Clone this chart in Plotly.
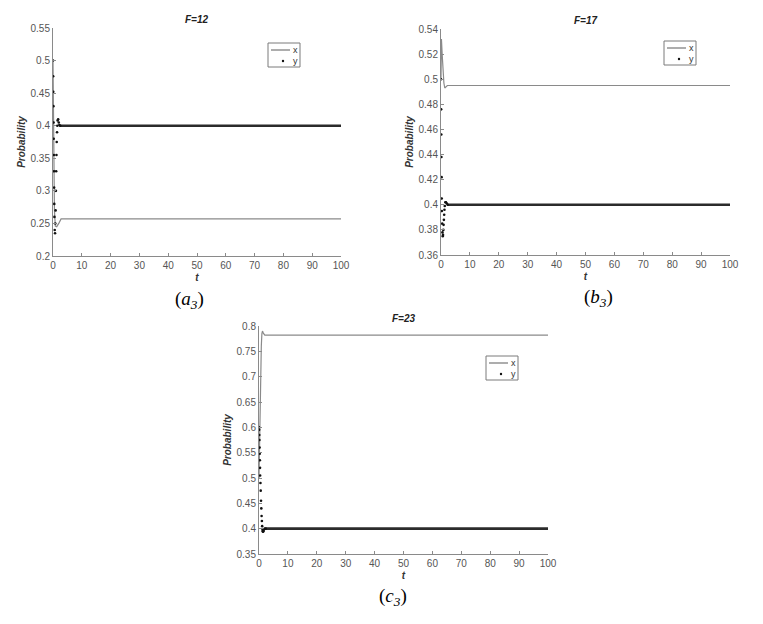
import plotly.graph_objects as go

# time grid and values (transient part + steady level)
# panel a3: F=12
ta_x = [0, 0.2, 0.5, 0.8, 1.3, 2.0, 2.8, 100]
xa = [0.5, 0.38, 0.27, 0.246, 0.245, 0.25, 0.257, 0.257]
ta_y = [0, 0.05, 0.1, 0.15, 0.2, 0.25, 0.3, 0.35, 0.4, 0.45, 0.5, 0.6, 0.7, 0.8,
        0.9, 1.0, 1.1, 1.2, 1.3, 1.4, 1.5, 1.6, 1.8, 2.0, 2.2, 2.5]
ya = [0.5, 0.476, 0.452, 0.43, 0.405, 0.38, 0.355, 0.33, 0.305, 0.28, 0.26, 0.24, 0.235, 0.25,
      0.27, 0.3, 0.33, 0.355, 0.375, 0.39, 0.4, 0.408, 0.41, 0.405, 0.401, 0.4]

# panel b3: F=17
tb_x = [0, 0.15, 0.4, 0.7, 1.0, 1.3, 1.7, 2.2, 100]
xb = [0.5, 0.532, 0.52, 0.505, 0.497, 0.493, 0.494, 0.495, 0.495]
tb_y = [0, 0.05, 0.1, 0.15, 0.2, 0.25, 0.3, 0.4, 0.5, 0.6, 0.7, 0.8, 0.9, 1.0,
        1.1, 1.2, 1.3, 1.5, 1.7, 2.0, 2.3]
yb = [0.5, 0.476, 0.456, 0.438, 0.422, 0.405, 0.395, 0.385, 0.378, 0.375, 0.376, 0.38, 0.384, 0.388,
      0.392, 0.396, 0.399, 0.402, 0.402, 0.401, 0.4]

# panel c3: F=23
tc_x = [0, 0.2, 0.4, 0.6, 0.8, 1.0, 1.2, 1.5, 2.0, 100]
xc = [0.5, 0.58, 0.66, 0.72, 0.76, 0.785, 0.79, 0.786, 0.782, 0.782]
tc_y = [0, 0.05, 0.1, 0.15, 0.2, 0.25, 0.3, 0.35, 0.4, 0.5, 0.6, 0.7, 0.8, 0.9,
        1.0, 1.1, 1.2, 1.3, 1.4, 1.5, 1.7, 2.0, 2.3]
yc = [0.6, 0.595, 0.585, 0.575, 0.56, 0.548, 0.535, 0.52, 0.505, 0.49, 0.475, 0.455, 0.44, 0.425,
      0.415, 0.405, 0.398, 0.395, 0.394, 0.395, 0.398, 0.4, 0.4]

# y settles at 0.4 in every panel
t_steady = [2.3, 100]
y_steady = [0.4, 0.4]

titles = ["F=12", "F=17", "F=23"]
labels = ["a", "b", "c"]
yranges = [[0.2, 0.55], [0.36, 0.54], [0.35, 0.8]]
ydticks = [0.05, 0.02, 0.05]

# the page has an 8px body margin, so the figure is drawn that much smaller
OFF = 8
W, H = 763 - OFF, 624 - OFF
# plot boxes in window pixels: left, right, top, bottom
boxes = [(53, 341, 28, 256), (441, 730, 29, 255), (259, 548, 326, 554)]
label_pos = [(189, 300), (598, 298), (393, 597)]
legend_pos = [(268, 43), (664, 41), (486, 356)]  # top-left corner of legend box

FONT = "Liberation Sans, Arial, sans-serif"
GREY = "#8a8a8a"


def px(x):
    return (x - OFF) / W


def py(y):
    return 1 - (y - OFF) / H


fig = go.Figure()
series = [(ta_x, xa, ta_y, ya), (tb_x, xb, tb_y, yb), (tc_x, xc, tc_y, yc)]
layout = {}
shapes = []
annotations = []
for i, (tx, xv, ty, yv) in enumerate(series):
    n = "" if i == 0 else str(i + 1)
    fig.add_trace(go.Scatter(x=tx, y=xv, mode="lines", name="x", showlegend=False,
                             line=dict(color=GREY, width=1.2),
                             xaxis="x" + n, yaxis="y" + n))
    fig.add_trace(go.Scatter(x=t_steady, y=y_steady, mode="lines", showlegend=False,
                             line=dict(color="#2b2b2b", width=2.6),
                             xaxis="x" + n, yaxis="y" + n))
    fig.add_trace(go.Scatter(x=ty, y=yv, mode="markers", name="y", showlegend=False,
                             marker=dict(color="#111111", size=2.6),
                             xaxis="x" + n, yaxis="y" + n))

    l, r, t, b = boxes[i]
    axis_common = dict(showline=True, linecolor=GREY, linewidth=1, ticks="inside",
                       ticklen=3, tickcolor=GREY, showgrid=False, zeroline=False,
                       automargin=False,
                       tickfont=dict(family=FONT, size=10, color="#555555"))
    layout["xaxis" + n] = dict(axis_common, domain=[px(l), px(r)], range=[0, 100],
                               dtick=10, tick0=0, anchor="y" + n,
                               title=dict(text="<b><i>t</i></b>", standoff=3,
                                          font=dict(family=FONT, size=10, color="#333333")))
    layout["yaxis" + n] = dict(axis_common, domain=[py(b), py(t)], range=yranges[i],
                               dtick=ydticks[i], tick0=yranges[i][0], anchor="x" + n,
                               title=dict(text="<b><i>Probability</i></b>", standoff=3,
                                          font=dict(family=FONT, size=10, color="#333333")))

    # small MATLAB-style legend box
    lx, ly = legend_pos[i]
    shapes.append(dict(type="rect", xref="paper", yref="paper",
                       x0=px(lx), x1=px(lx + 32), y0=py(ly), y1=py(ly + 24),
                       line=dict(color="#7a7a7a", width=1), fillcolor="white"))
    shapes.append(dict(type="line", xref="paper", yref="paper",
                       x0=px(lx + 3), x1=px(lx + 22), y0=py(ly + 7), y1=py(ly + 7),
                       line=dict(color=GREY, width=1.4)))
    shapes.append(dict(type="circle", xref="paper", yref="paper",
                       x0=px(lx + 13.8), x1=px(lx + 16.2), y0=py(ly + 16.8), y1=py(ly + 19.2),
                       line=dict(color="#111111", width=0), fillcolor="#111111"))
    for txt, row in (("x", 7), ("y", 18)):
        annotations.append(dict(text=txt, x=px(lx + 23), y=py(ly + row), xref="paper",
                                yref="paper", showarrow=False, xanchor="left",
                                yanchor="middle",
                                font=dict(family=FONT, size=9, color="#333333")))

    annotations.append(dict(text="<b><i>" + titles[i] + "</i></b>", x=px((l + r) / 2),
                            y=py(t - 8), xref="paper", yref="paper",
                            showarrow=False, xanchor="center", yanchor="middle",
                            font=dict(family=FONT, size=10, color="#222222")))
    lbx, lby = label_pos[i]
    annotations.append(dict(text="(<i>" + labels[i] + "<sub>3</sub></i>)", x=px(lbx),
                            y=py(lby), xref="paper", yref="paper",
                            showarrow=False, xanchor="center", yanchor="middle",
                            font=dict(family="Liberation Serif, Times New Roman, serif",
                                      size=19, color="#000000")))

fig.update_layout(width=W, height=H, margin=dict(l=0, r=0, t=0, b=0),
                  paper_bgcolor="white", plot_bgcolor="white", showlegend=False,
                  shapes=shapes, annotations=annotations, **layout)

fig.write_html("out.html")
